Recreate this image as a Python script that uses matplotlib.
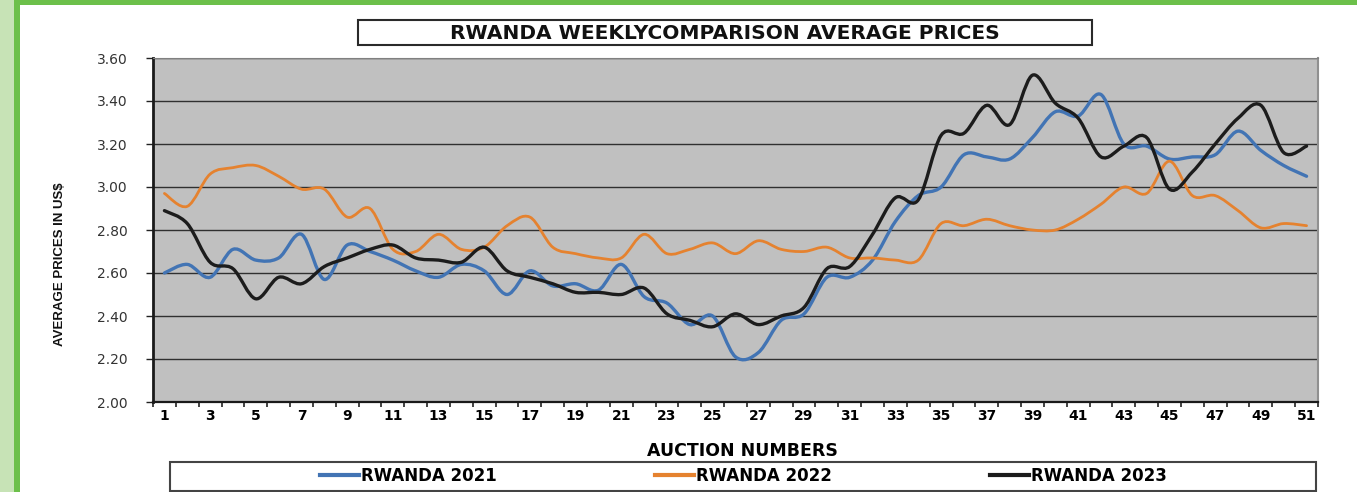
import numpy as np
import matplotlib
matplotlib.use('Agg')
import matplotlib.pyplot as plt
from matplotlib.path import Path
from matplotlib.patches import PathPatch, Rectangle
from matplotlib.lines import Line2D

auction = list(range(1, 52))

rwanda_2021 = [2.60, 2.64, 2.58, 2.71, 2.66, 2.67, 2.78, 2.57, 2.73, 2.70,
               2.66, 2.61, 2.58, 2.64, 2.61, 2.50, 2.61, 2.54, 2.55, 2.52,
               2.64, 2.49, 2.46, 2.36, 2.40, 2.21, 2.23, 2.38, 2.41, 2.58,
               2.58, 2.66, 2.84, 2.96, 3.00, 3.15, 3.14, 3.13, 3.23, 3.35,
               3.33, 3.43, 3.20, 3.19, 3.13, 3.14, 3.15, 3.26, 3.17, 3.10, 3.05]
rwanda_2022 = [2.97, 2.91, 3.06, 3.09, 3.10, 3.05, 2.99, 2.99, 2.86, 2.90,
               2.71, 2.70, 2.78, 2.71, 2.72, 2.82, 2.86, 2.72, 2.69, 2.67,
               2.67, 2.78, 2.69, 2.71, 2.74, 2.69, 2.75, 2.71, 2.70, 2.72,
               2.67, 2.67, 2.66, 2.66, 2.83, 2.82, 2.85, 2.82, 2.80, 2.80,
               2.85, 2.92, 3.00, 2.97, 3.12, 2.96, 2.96, 2.89, 2.81, 2.83, 2.82]
rwanda_2023 = [2.89, 2.83, 2.65, 2.62, 2.48, 2.58, 2.55, 2.63, 2.67, 2.71,
               2.73, 2.67, 2.66, 2.65, 2.72, 2.61, 2.58, 2.55, 2.51, 2.51,
               2.50, 2.53, 2.41, 2.38, 2.35, 2.41, 2.36, 2.40, 2.44, 2.62,
               2.63, 2.78, 2.95, 2.94, 3.24, 3.25, 3.38, 3.29, 3.52, 3.39,
               3.32, 3.14, 3.19, 3.23, 2.99, 3.07, 3.20, 3.32, 3.38, 3.16, 3.19]

series = [("RWANDA 2021", rwanda_2021, '#4274b4', 2.4),
          ("RWANDA 2022", rwanda_2022, '#e5822f', 2.0),
          ("RWANDA 2023", rwanda_2023, '#1c1c1c', 2.4)]

y_ticks = [2.00, 2.20, 2.40, 2.60, 2.80, 3.00, 3.20, 3.40, 3.60]
title = "RWANDA WEEKLYCOMPARISON AVERAGE PRICES"


def smooth_path(x, y):
    # excel style smoothed line: bezier segments through the data points
    p = np.column_stack([x, y]).astype(float)
    verts = [p[0]]
    codes = [Path.MOVETO]
    n = len(p)
    for i in range(n - 1):
        p0 = p[i - 1] if i > 0 else p[i]
        p3 = p[i + 2] if i + 2 < n else p[i + 1]
        c1 = p[i] + (p[i + 1] - p0) / 6.0
        c2 = p[i + 1] - (p3 - p[i]) / 6.0
        verts += [c1, c2, p[i + 1]]
        codes += [Path.CURVE4] * 3
    return Path(verts, codes)


fig = plt.figure(figsize=(13.57, 4.92), dpi=100)

# green frame at the left and top
fig.patches.append(Rectangle((0, 0), 14 / 1357, 1, transform=fig.transFigure,
                             facecolor='#c7e3b6', edgecolor='none', zorder=0))
fig.patches.append(Rectangle((14 / 1357, 0), 6 / 1357, 1, transform=fig.transFigure,
                             facecolor='#6cc04a', edgecolor='none', zorder=0))
fig.patches.append(Rectangle((14 / 1357, 1 - 5 / 492), 1, 5 / 492, transform=fig.transFigure,
                             facecolor='#6cc04a', edgecolor='none', zorder=0))

ax = fig.add_axes([153 / 1357, 1 - 402 / 492, 1165 / 1357, 344 / 492])
ax.set_facecolor('#c0c0c0')

for label, vals, color, lw in series:
    ax.add_patch(PathPatch(smooth_path(auction, vals), facecolor='none',
                           edgecolor=color, lw=lw, capstyle='round', zorder=3))

ax.set_xlim(0.5, 51.5)
ax.set_ylim(2.0, 3.6)
ax.set_yticks(y_ticks)
ax.set_yticklabels(['%.2f' % v for v in y_ticks])
ax.yaxis.grid(True, color='#303030', lw=1.0)
ax.set_axisbelow(True)

ax.set_xticks(auction[::2])
ax.set_xticks(np.arange(0.5, 52, 1.0), minor=True)
ax.tick_params(axis='x', which='major', length=0, pad=5, labelsize=10)
ax.tick_params(axis='x', which='minor', length=3.5, width=1.2, color='#222222', direction='out')
ax.tick_params(axis='y', length=5, width=1.0, color='#222222', pad=13,
               labelsize=10, labelcolor='#333333')
for t in ax.get_xticklabels():
    t.set_fontweight('bold')
    t.set_family('DejaVu Sans')

ax.spines['left'].set_color('#1a1a1a')
ax.spines['left'].set_linewidth(2.0)
ax.spines['bottom'].set_color('#1a1a1a')
ax.spines['bottom'].set_linewidth(1.6)
ax.spines['top'].set_color('#808080')
ax.spines['right'].set_color('#909090')
ax.spines['right'].set_linewidth(1.5)

ax.set_ylabel("AVERAGE PRICES IN US$", fontsize=9.5, fontweight='bold',
              family='Liberation Sans', color='#111111')
ax.yaxis.set_label_coords(-0.075, 0.40)
ax.set_xlabel("AUCTION NUMBERS", fontsize=12.5, fontweight='bold', family='DejaVu Sans')
ax.xaxis.set_label_coords(0.506, -0.116)

# title in a box
fig.patches.append(Rectangle((358 / 1357, 1 - 45 / 492), 734 / 1357, 25 / 492,
                             transform=fig.transFigure, facecolor='white',
                             edgecolor='#2a2a2a', lw=1.5, zorder=1))
fig.text(725 / 1357, 1 - 33 / 492, title, ha='center', va='center',
         fontsize=14.5, fontweight='bold', family='DejaVu Sans', color='#111111')

# legend in a box
fig.patches.append(Rectangle((170 / 1357, 1 - 491 / 492), 1146 / 1357, 29 / 492,
                             transform=fig.transFigure, facecolor='white',
                             edgecolor='#444444', lw=1.5, zorder=1))
handles = [Line2D([], [], color=c, lw=3) for _, _, c, _ in series]
fig.legend(handles, [s[0] for s in series], loc='center',
           bbox_to_anchor=(743.5 / 1357, 1 - 476 / 492), ncol=3, frameon=False,
           prop={'family': 'DejaVu Sans', 'weight': 'bold', 'size': 12},
           handlelength=2.34, handletextpad=0.1, columnspacing=9.5)

fig.savefig('out.png', dpi=100)
